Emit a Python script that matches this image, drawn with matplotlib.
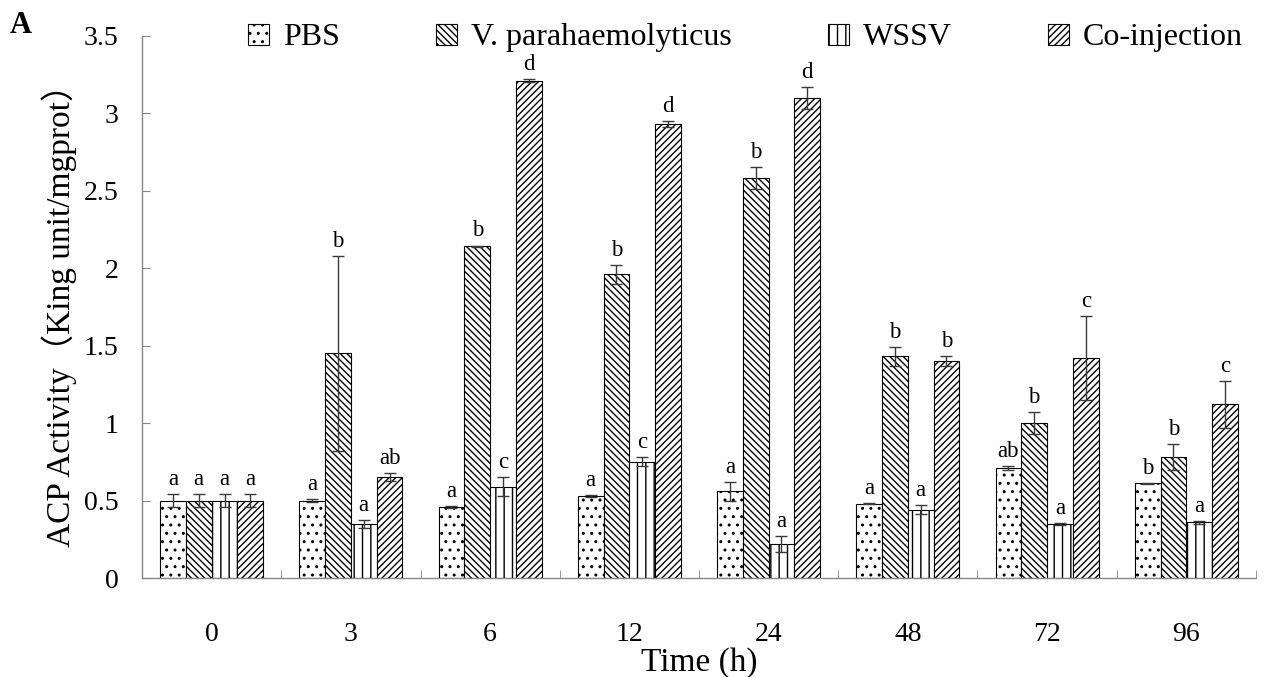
import numpy as np
import matplotlib
matplotlib.use("Agg")
import matplotlib.pyplot as plt
from matplotlib.ticker import FixedLocator, FuncFormatter

# ACP activity per treatment group over time
times = ["0", "3", "6", "12", "24", "48", "72", "96"]
groups = ["PBS", "V. parahaemolyticus", "WSSV", "Co-injection"]

pbs = [0.50, 0.50, 0.46, 0.53, 0.56, 0.48, 0.71, 0.61]
pbs_err = [0.04, 0.01, 0.005, 0.005, 0.06, 0.005, 0.01, 0.005]
vp = [0.50, 1.45, 2.14, 1.96, 2.58, 1.43, 1.00, 0.78]
vp_err = [0.04, 0.63, 0.005, 0.06, 0.07, 0.06, 0.07, 0.085]
wssv = [0.50, 0.35, 0.59, 0.75, 0.22, 0.44, 0.35, 0.36]
wssv_err = [0.04, 0.025, 0.06, 0.03, 0.05, 0.03, 0.005, 0.01]
coinj = [0.50, 0.65, 3.21, 2.93, 3.10, 1.40, 1.42, 1.12]
coinj_err = [0.04, 0.025, 0.01, 0.02, 0.07, 0.03, 0.27, 0.15]

# significance letters
pbs_sig = ["a", "a", "a", "a", "a", "a", "ab", "b"]
vp_sig = ["a", "b", "b", "b", "b", "b", "b", "b"]
wssv_sig = ["a", "a", "c", "c", "a", "a", "a", "a"]
coinj_sig = ["a", "ab", "d", "d", "d", "b", "c", "c"]

plt.rcParams['font.family'] = ['Liberation Serif', 'Noto Sans CJK SC']
plt.rcParams['hatch.linewidth'] = 1.0

fig = plt.figure(figsize=(12.68, 6.77), dpi=100)
ax = fig.add_axes([0.112, 0.1462, 0.8785, 0.8011])

x = np.arange(len(times))
width = 0.185
hatches = ['..', '\\\\\\\\\\', '||', '/////']
series = [(pbs, pbs_err, pbs_sig), (vp, vp_err, vp_sig),
          (wssv, wssv_err, wssv_sig), (coinj, coinj_err, coinj_sig)]

for k, (vals, errs, sigs) in enumerate(series):
    pos = x + (k - 1.5) * width
    ax.bar(pos, vals, width, color='white', edgecolor='black', linewidth=0.8,
           hatch=hatches[k], label=groups[k], zorder=2)
    ax.errorbar(pos, vals, yerr=errs, fmt='none', ecolor='#3a3a3a',
                elinewidth=1.0, capsize=4.5, capthick=1.0, zorder=3)
    for p, v, e, s in zip(pos, vals, errs, sigs):
        ax.annotate(s, (p, v + e), xytext=(0, 3), textcoords='offset points',
                    ha='center', va='bottom', fontsize=16.5)

ax.set_xlim(-0.5, len(times) - 0.5)
ax.set_ylim(0, 3.5)
ax.set_yticks(np.arange(0, 3.51, 0.5))
ax.yaxis.set_major_formatter(FuncFormatter(lambda v, p: f'{v:g}'))

ax.set_xticks(x)
ax.set_xticklabels(times)
ax.xaxis.set_minor_locator(FixedLocator(np.arange(-0.5, len(times), 1.0)))
ax.tick_params(axis='x', which='major', length=0, pad=32, labelsize=20)
ax.tick_params(axis='x', which='minor', direction='in', length=6, color='#868686')
ax.tick_params(axis='y', direction='in', length=6, color='#868686', pad=17, labelsize=20)

for side in ['top', 'right']:
    ax.spines[side].set_visible(False)
for side in ['left', 'bottom']:
    ax.spines[side].set_color('#868686')
    ax.spines[side].set_linewidth(1.0)

ax.set_xlabel('Time (h)', fontsize=24, labelpad=0)
ax.set_ylabel('ACP Activity（King unit/mgprot）', fontsize=24)
ax.yaxis.set_label_coords(-0.058, 0.5)

ax.legend(loc='center', bbox_to_anchor=(0.588, 0.944), bbox_transform=fig.transFigure,
          ncol=4, frameon=False, fontsize=23, handlelength=0.65, handleheight=0.65,
          handletextpad=0.45, columnspacing=3.0, borderpad=0)

fig.text(0.008, 1 - 33 / 677, 'A', fontsize=22, fontweight='bold', va='baseline')

fig.savefig('out.png', dpi=100)
